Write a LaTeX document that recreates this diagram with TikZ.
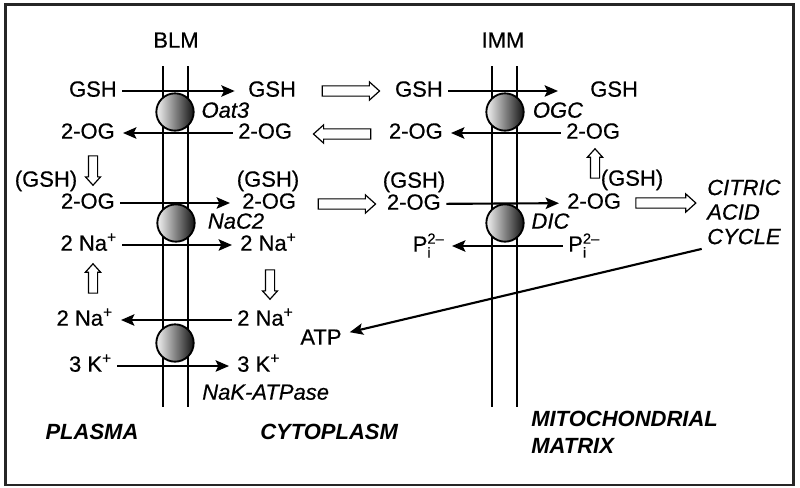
\documentclass[tikz,border=0pt]{standalone}
\usepackage{fontspec}
\setmainfont{Liberation Sans}[UprightFeatures={FakeBold=0.5}, ItalicFeatures={FakeBold=0.5}]
\usetikzlibrary{positioning, shapes, arrows.meta}

\newcommand{\phosph}{P\makebox[0pt][l]{\raisebox{-4.5pt}{\fontsize{11}{11}\selectfont i}}\raisebox{6pt}{\fontsize{11}{11}\selectfont 2\textendash}}

\tikzset{
  mol/.style={font=\fontsize{16.5}{20}\selectfont, inner sep=3pt, text height=12pt, text depth=3.5pt},
  carrierlbl/.style={mol, font=\fontsize{16.5}{20}\selectfont\itshape},
  region/.style={font=\fontsize{16.5}{20}\selectfont\bfseries\itshape, align=left, inner sep=3pt},
  carrier/.style={circle, draw, line width=1.4pt, minimum size=28pt, inner sep=0pt, left color=gray!10, right color=black!92},
  membrane/.style={line width=1.5pt},
  flow/.style={line width=1.6pt, -{Stealth[length=10pt, width=8.5pt, inset=2pt]}, shorten >=3pt, shorten <=1pt},
  move/.style={single arrow, draw, line width=0.9pt, fill=white, minimum height=43pt, inner xsep=0pt, inner ysep=3.4pt, single arrow head extend=3pt, single arrow tip angle=84},
  vmove/.style={move, minimum height=22pt, inner ysep=3pt, single arrow head extend=2.2pt}
}

\begin{document}
\begin{tikzpicture}[x=0.75pt, y=-0.75pt]
    \useasboundingbox (0,0) rectangle (800,487);
    \draw[line width=1.6pt, black!85] (5.5,4.5) rectangle (793.5,485);

    % membranes
    \foreach \x in {163, 188, 492, 517}
    \draw[membrane] (\x,66) -- (\x,407);
    \node[mol] (blm) at (176,42) {BLM};
    \node[mol] (imm) at (503,42) {IMM};

    % plasma side
    \node[mol, anchor=east] (gshA) at (121,91) {GSH};
    \node[mol, anchor=east] (ogA) at (119,133) {2-OG};
    \node[mol] (gshC) at (46,181) {(GSH)};
    \node[mol, anchor=east] (ogC) at (119,203) {2-OG};
    \node[mol, anchor=east] (naA) at (121,245) {2 Na\textsuperscript{+}};
    \node[mol, anchor=east] (naC) at (117,320) {2 Na\textsuperscript{+}};
    \node[mol, anchor=east] (kA) at (116,366) {3 K\textsuperscript{+}};

    % cytoplasm
    \node[mol, anchor=west] (gshB) at (244,91) {GSH};
    \node[mol, anchor=west] (ogB) at (234,133) {2-OG};
    \node[mol] (gshG) at (268,181) {(GSH)};
    \node[mol, anchor=west] (ogD) at (238,203) {2-OG};
    \node[mol, anchor=west] (naB) at (236,245) {2 Na\textsuperscript{+}};
    \node[mol, anchor=west] (naD) at (233,320) {2 Na\textsuperscript{+}};
    \node[mol, anchor=west] (kB) at (233,366) {3 K\textsuperscript{+}};
    \node[mol] (atp) at (321,339) {ATP};

    \node[mol, anchor=east] (gshD) at (447,91) {GSH};
    \node[mol, anchor=east] (ogE) at (447,133) {2-OG};
    \node[mol] (gshF) at (414,182) {(GSH)};
    \node[mol, anchor=east] (ogF) at (445,204) {2-OG};
    \node[mol, anchor=east] (piA) at (448,246) {\phosph};

    % matrix
    \node[mol, anchor=west] (gshE) at (586,91) {GSH};
    \node[mol, anchor=west] (ogG) at (562,133) {2-OG};
    \node[mol] (gshH) at (632,180) {(GSH)};
    \node[mol, anchor=west] (ogH) at (563,203) {2-OG};
    \node[mol, anchor=west] (piB) at (564,246) {\phosph};
    \node[font=\fontsize{16.5}{18.4}\selectfont\itshape, align=left, inner sep=3pt, anchor=west] (tca) at (703,212) {CITRIC\\ACID\\CYCLE};

    % transport across the membranes
    \draw[flow, shorten >=7pt] (gshA) -- (gshB);
    \draw[flow] (ogB) -- (ogA);
    \draw[flow, shorten >=6pt] (ogC) -- (ogD);
    \draw[flow] (naA) -- (naB);
    \draw[flow] (naD) -- (naC);
    \draw[flow] (kA) -- (kB);
    \draw[flow, shorten >=21pt] (gshD) -- (gshE);
    \draw[flow] (ogG) -- (ogE);
    \draw[flow] (ogF) -- (ogH);
    \draw[flow] (piB) -- (piA);
    \draw[flow] (tca.south west) -- (atp);

    % hollow arrows
    \node[move] (m1) at (348,91) {};
    \node[move, rotate=180] (m2) at (345,134) {};
    \node[move] (m3) at (344,204) {};
    \node[move, minimum height=45pt] (m4) at (663,203) {};
    \node[vmove, rotate=270] (m5) at (93,168) {};
    \node[vmove, rotate=90] (m6) at (93,281) {};
    \node[vmove, rotate=270] (m7) at (270,282) {};
    \node[vmove, rotate=90] (m8) at (595,166) {};

    % carriers
    \node[carrier] (oat3) at (175,112) {};
    \node[carrier] (nac2) at (176,223) {};
    \node[carrier] (nak) at (175,343) {};
    \node[carrier] (ogc) at (505,112) {};
    \node[carrier] (dic) at (505,223) {};
    \node[carrierlbl, right=2pt of oat3] (oat3lbl) {Oat3};
    \node[carrierlbl, right=6pt of nac2] (nac2lbl) {NaC2};
    \node[carrierlbl, anchor=west] (naklbl) at (198,394) {NaK-ATPase};
    \node[carrierlbl, right=3pt of ogc] (ogclbl) {OGC};
    \node[carrierlbl, right=2pt of dic] (diclbl) {DIC};

    \node[region] (plasma) at (92,432) {PLASMA};
    \node[region, anchor=west] (cyto) at (256,432) {CYTOPLASM};
    \node[region, anchor=west] (mito) at (527,432) {MITOCHONDRIAL\\MATRIX};
\end{tikzpicture}
\end{document}
